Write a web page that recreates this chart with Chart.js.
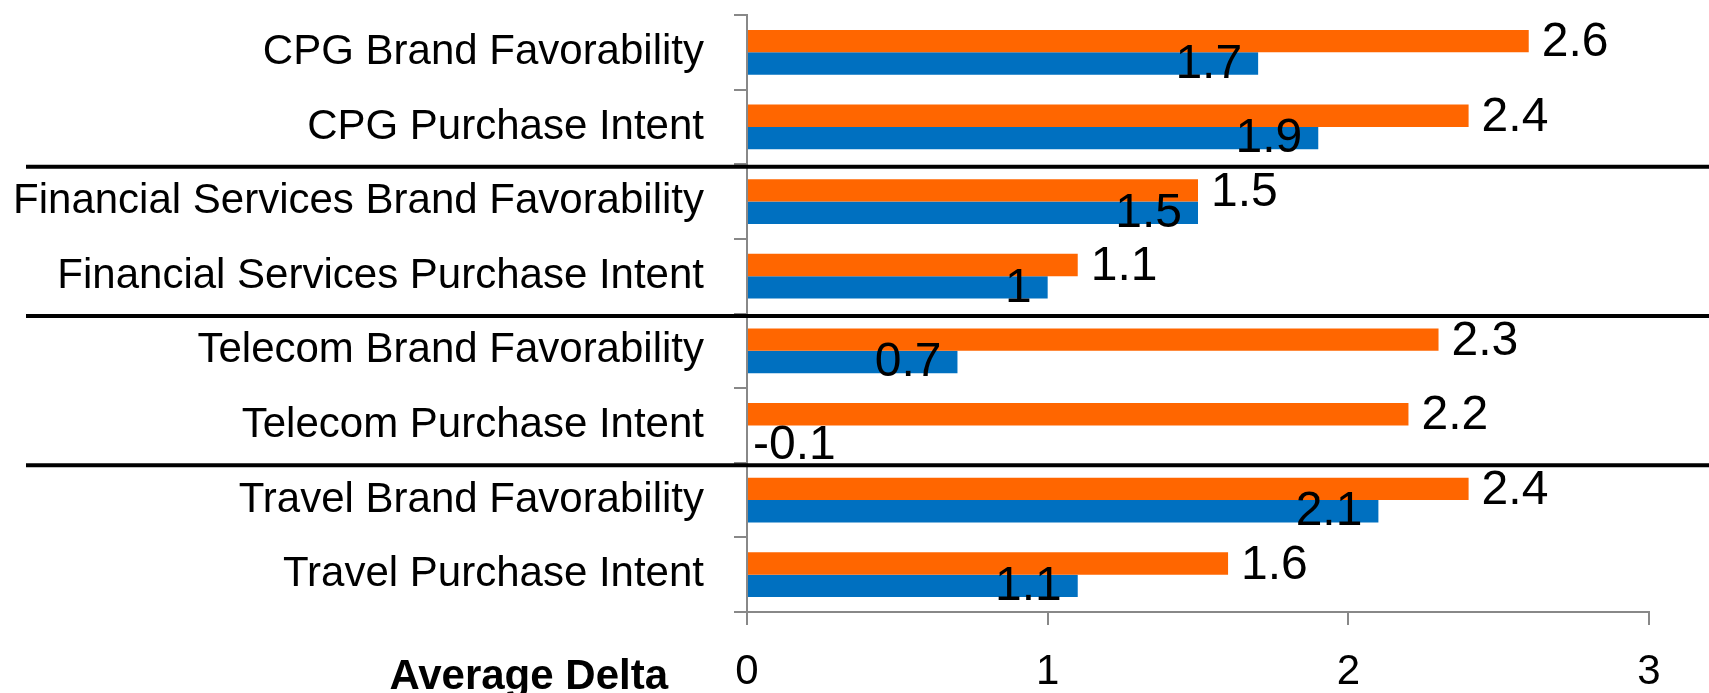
<!DOCTYPE html>
<html>
<head>
<meta charset="utf-8">
<script src="https://cdn.jsdelivr.net/npm/chart.js@4/dist/chart.umd.min.js"></script>
<style>
  html, body { margin: 0; padding: 0; background: #ffffff; }
  #wrap { width: 1709px; height: 693px; }
</style>
</head>
<body>
<div id="wrap"><canvas id="c" width="1709" height="693"></canvas></div>
<script>
// ---- data ----
const categories = [
  'CPG Brand Favorability',
  'CPG Purchase Intent',
  'Financial Services Brand Favorability',
  'Financial Services Purchase Intent',
  'Telecom Brand Favorability',
  'Telecom Purchase Intent',
  'Travel Brand Favorability',
  'Travel Purchase Intent'
];
const seriesOrange = [2.6, 2.4, 1.5, 1.1, 2.3, 2.2, 2.4, 1.6];
const seriesBlue = [1.7, 1.9, 1.5, 1, 0.7, -0.1, 2.1, 1.1];
const xTicks = [0, 1, 2, 3];
const axisTitle = 'Average Delta';
const groupBreaks = [2, 4, 6];

// ---- styles ----
const FONT = '"Liberation Sans", Arial, sans-serif';
const ORANGE = '#FF6600';
const BLUE = '#0070C0';
const AXIS_GRAY = '#888888';

const valueLabels = {
  id: 'valueLabels',
  afterDatasetsDraw(chart) {
    const ctx = chart.ctx;
    const area = chart.chartArea;
    ctx.save();
    ctx.font = '48px ' + FONT;
    ctx.fillStyle = '#000000';
    ctx.textBaseline = 'middle';
    chart.data.datasets.forEach((ds, di) => {
      const meta = chart.getDatasetMeta(di);
      meta.data.forEach((el, i) => {
        const v = ds.data[i];
        const txt = String(v);
        if (di === 0) {
          ctx.textAlign = 'left';
          ctx.fillText(txt, el.x + 13, el.y + 2);
        } else if (v >= 0) {
          ctx.textAlign = 'right';
          ctx.fillText(txt, el.x - 16, el.y + 1);
        } else {
          ctx.textAlign = 'left';
          ctx.fillText(txt, area.left + 6, el.y + 9);
        }
      });
    });
    ctx.restore();
  }
};

const groupLines = {
  id: 'groupLines',
  afterDraw(chart) {
    const ys = chart.scales.y;
    const ctx = chart.ctx;
    ctx.save();
    ctx.strokeStyle = '#000000';
    ctx.lineWidth = 4;
    groupBreaks.forEach(b => {
      const py = ys.getPixelForValue(b - 0.5) + 2.5;
      ctx.beginPath();
      ctx.moveTo(26, py);
      ctx.lineTo(chart.width, py);
      ctx.stroke();
    });
    ctx.restore();
  }
};

const axisTitlePlugin = {
  id: 'axisTitlePlugin',
  afterDraw(chart) {
    const xs = chart.scales.x;
    const ctx = chart.ctx;
    ctx.save();
    ctx.font = 'bold 42px ' + FONT;
    ctx.fillStyle = '#000000';
    ctx.textAlign = 'right';
    ctx.textBaseline = 'middle';
    ctx.fillText(axisTitle, xs.left - 79, xs.top + 65);
    ctx.restore();
  }
};

new Chart(document.getElementById('c'), {
  type: 'bar',
  data: {
    labels: categories,
    datasets: [
      { label: 'Series 1', data: seriesOrange, backgroundColor: ORANGE, borderWidth: 0, clip: 0 },
      { label: 'Series 2', data: seriesBlue, backgroundColor: BLUE, borderWidth: 0, clip: 0 }
    ]
  },
  options: {
    indexAxis: 'y',
    responsive: false,
    animation: false,
    devicePixelRatio: 1,
    categoryPercentage: 0.6,
    barPercentage: 1.0,
    layout: { padding: { top: 15, right: 60, bottom: 0, left: 0 } },
    plugins: { legend: { display: false }, tooltip: { enabled: false }, title: { display: false } },
    scales: {
      x: {
        type: 'linear',
        min: 0,
        max: 3,
        afterBuildTicks(s) { s.ticks = xTicks.map(v => ({ value: v })); },
        ticks: {
          color: '#000000',
          padding: 26,
          font: { family: FONT, size: 42, lineHeight: 1 },
          callback: v => String(v)
        },
        grid: {
          drawOnChartArea: false,
          drawTicks: true,
          tickLength: 13,
          color: AXIS_GRAY,
          lineWidth: 2,
          tickColor: AXIS_GRAY,
          tickWidth: 2
        },
        border: { color: AXIS_GRAY, width: 2 },
        afterFit(s) { s.height = 81; s.paddingLeft = 0; s.paddingRight = 0; }
      },
      y: {
        type: 'category',
        offset: true,
        ticks: {
          color: '#000000',
          padding: 30,
          font: { family: FONT, size: 42, lineHeight: 1 }
        },
        grid: {
          offset: true,
          drawOnChartArea: false,
          drawTicks: true,
          tickLength: 13,
          color: AXIS_GRAY,
          lineWidth: 2,
          tickColor: AXIS_GRAY,
          tickWidth: 2
        },
        border: { color: AXIS_GRAY, width: 2 },
        afterFit(s) { s.width = 747; s.paddingTop = 0; s.paddingBottom = 0; }
      }
    }
  },
  plugins: [valueLabels, groupLines, axisTitlePlugin]
});
</script>
</body>
</html>
